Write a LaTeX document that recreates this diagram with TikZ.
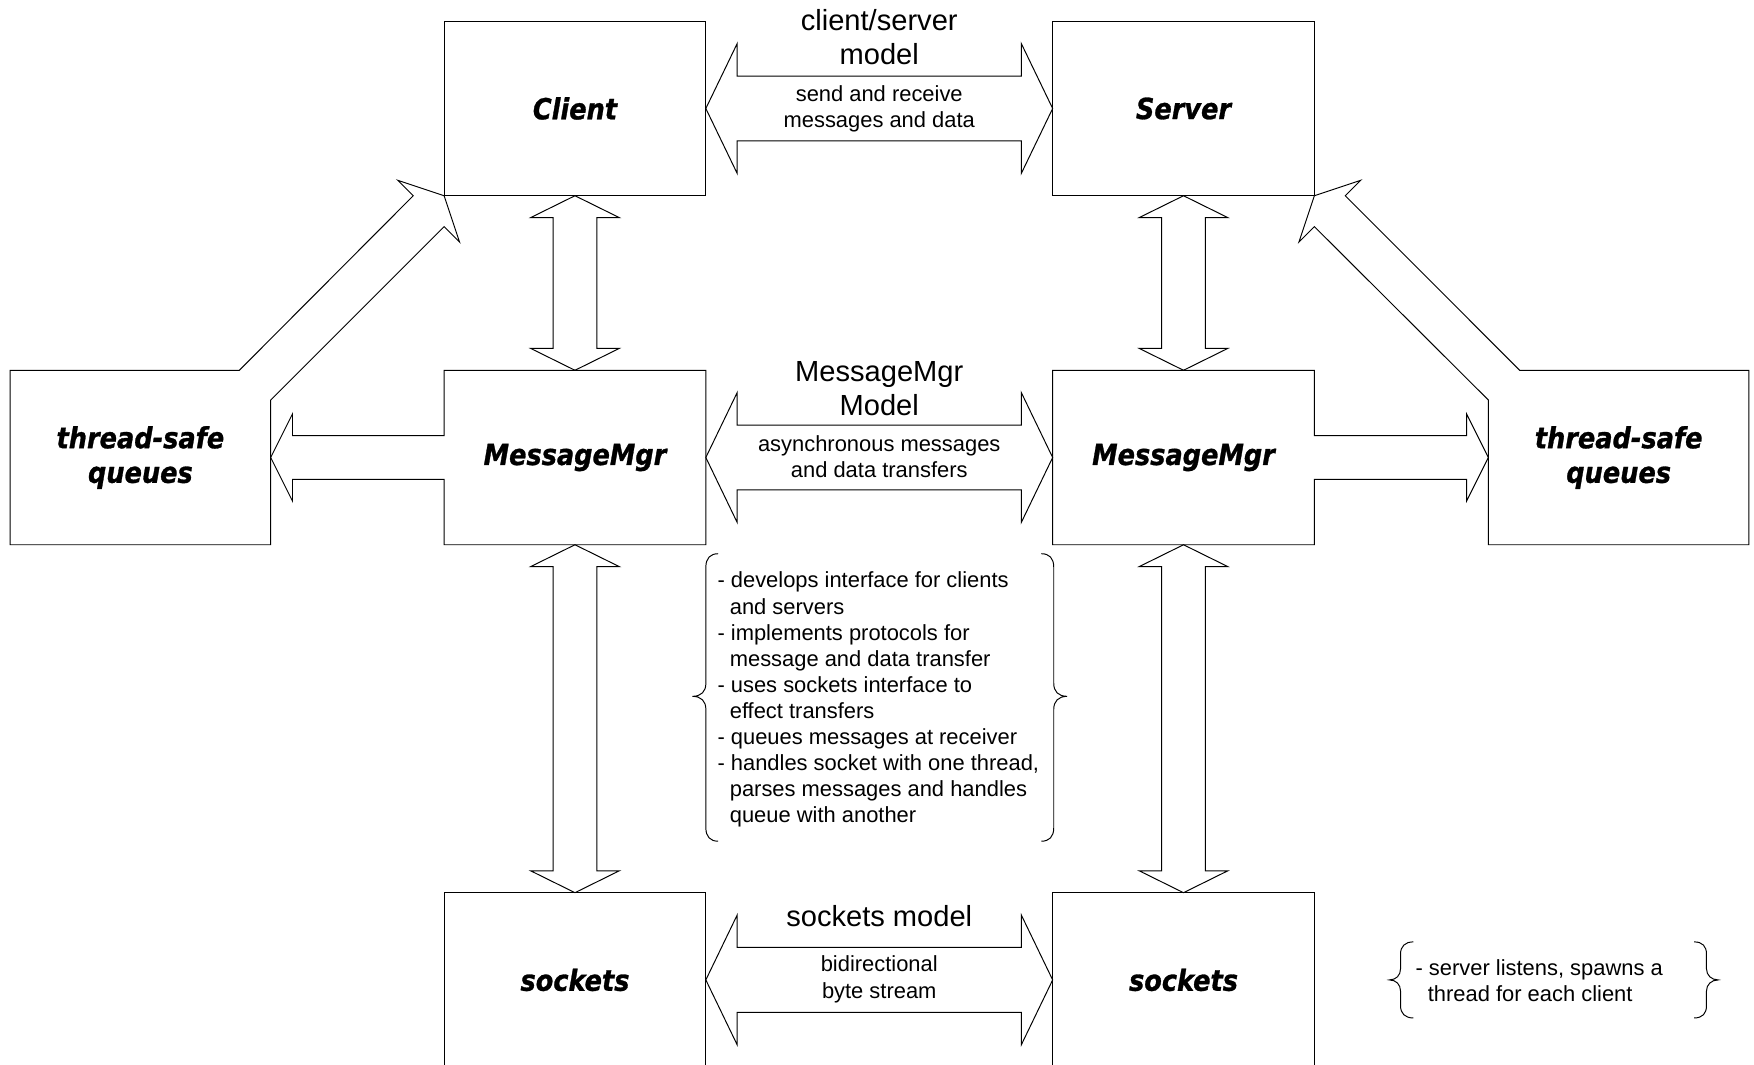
\documentclass[tikz,border=0pt]{standalone}
\usepackage{fontspec}
\setmainfont{Liberation Sans}
\newfontfamily\boxfont{DejaVu Sans}[FakeStretch=0.88, BoldItalicFeatures={FakeBold=1}]
\usetikzlibrary{calc}
\newcommand{\noteind}{\hspace*{0.22cm}}
\newcommand{\hbiarrow}[2]{%
  \draw[arr] (#1.east) -- ($(#1.east)+(28,-58)$) -- ($(#1.east)+(28,-29)$)
    -- ($(#2.west)+(-28,-29)$) -- ($(#2.west)+(-28,-58)$) -- (#2.west)
    -- ($(#2.west)+(-28,58)$) -- ($(#2.west)+(-28,29)$)
    -- ($(#1.east)+(28,29)$) -- ($(#1.east)+(28,58)$) -- cycle;}
\newcommand{\vbiarrow}[2]{%
  \draw[arr] (#1.south) -- ($(#1.south)+(39.5,19.5)$) -- ($(#1.south)+(19.5,19.5)$)
    -- ($(#2.north)+(19.5,-19.5)$) -- ($(#2.north)+(39.5,-19.5)$) -- (#2.north)
    -- ($(#2.north)+(-39.5,-19.5)$) -- ($(#2.north)+(-19.5,-19.5)$)
    -- ($(#1.south)+(-19.5,19.5)$) -- ($(#1.south)+(-39.5,19.5)$) -- cycle;}
\tikzset{
  box/.style={rectangle, minimum width=4.68cm, minimum height=3.12cm, inner sep=0pt, outer sep=0pt,
    font=\boxfont\bfseries\itshape\fontsize{14.8pt}{17.6pt}\selectfont, align=center},
  boxd/.style={box, draw},
  arr/.style={draw, line width=0.5pt, line join=miter},
  biglbl/.style={font=\fontsize{14.8pt}{17.07pt}\selectfont, align=center, inner sep=0pt},
  smalllbl/.style={font=\fontsize{11.15pt}{13.26pt}\selectfont, align=center, inner sep=0pt},
  notetext/.style={font=\fontsize{11.15pt}{13.26pt}\selectfont, align=left, inner sep=0pt, anchor=north west},
  bracepath/.style={draw, line width=0.5pt},
}
\begin{document}
\begin{tikzpicture}[x=0.02cm, y=-0.02cm, line width=0.5pt]
\useasboundingbox (0,0) rectangle (1568,952);
% boxes
\node[boxd] (client) at (514,97) {Client};
\node[boxd] (server) at (1058,97) {Server};
\node[box] (mmL) at (514,409) {MessageMgr};
\node[box] (mmR) at (1058,409) {MessageMgr};
\node[box, minimum width=4.66cm] (qL) at (125.5,409) {thread-safe\\queues};
\node[box, minimum width=4.66cm] (qR) at (1447,409) {thread-safe\\queues};
\node[boxd] (sockL) at (514,876) {sockets};
\node[boxd] (sockR) at (1058,876) {sockets};
% MessageMgr outlines with arrows into the queues
\draw[arr] ($(mmL.west)+(0,-19.5)$) -- ($(qL.east)+(19.5,-19.5)$) -- ($(qL.east)+(19.5,-39)$)
  -- (qL.east) -- ($(qL.east)+(19.5,39)$) -- ($(qL.east)+(19.5,19.5)$) -- ($(mmL.west)+(0,19.5)$)
  -- (mmL.south west) -- (mmL.south east) -- (mmL.north east) -- (mmL.north west) -- cycle;
\draw[arr] ($(mmR.east)+(0,-19.5)$) -- ($(qR.west)+(-19.5,-19.5)$) -- ($(qR.west)+(-19.5,-39)$)
  -- (qR.west) -- ($(qR.west)+(-19.5,39)$) -- ($(qR.west)+(-19.5,19.5)$) -- ($(mmR.east)+(0,19.5)$)
  -- (mmR.south east) -- (mmR.south west) -- (mmR.north west) -- (mmR.north east) -- cycle;
% queue outlines with diagonal arrows
\draw[arr] ($(qL.north east)+(-28,0)$) -- (qL.north west) -- (qL.south west) -- (qL.south east)
  -- ($(qL.north east)+(0,26.6)$) -- ($(client.south west)+(0,27.6)$) -- ($(client.south west)+(13.8,41.4)$)
  -- (client.south west) -- ($(client.south west)+(-41.4,-13.8)$) -- ($(client.south west)+(-27.6,0)$) -- cycle;
\draw[arr] ($(qR.north west)+(28,0)$) -- (qR.north east) -- (qR.south east) -- (qR.south west)
  -- ($(qR.north west)+(0,26.6)$) -- ($(server.south east)+(0,27.6)$) -- ($(server.south east)+(-13.8,41.4)$)
  -- (server.south east) -- ($(server.south east)+(41.4,-13.8)$) -- ($(server.south east)+(27.6,0)$) -- cycle;
% double arrows
\hbiarrow{client}{server}
\hbiarrow{mmL}{mmR}
\hbiarrow{sockL}{sockR}
\vbiarrow{client}{mmL}
\vbiarrow{server}{mmR}
\vbiarrow{mmL}{sockL}
\vbiarrow{mmR}{sockR}
% labels
\node[biglbl] (csm) at (786,33) {client/server\\model};
\node[smalllbl] (csd) at (786,97.5) {send and receive\\messages and data};
\node[biglbl] (mmm) at (786,347.5) {MessageMgr\\Model};
\node[smalllbl] (mmd) at (786,408.5) {asynchronous messages\\and data transfers};
\node[biglbl] (skm) at (786,819) {sockets model};
\node[smalllbl] (skd) at (786,875.5) {bidirectional\\byte stream};
% notes
\node[notetext] (note1) at (641,511) {- develops interface for clients\\\noteind and servers\\- implements protocols for\\\noteind message and data transfer\\- uses sockets interface to\\\noteind effect transfers\\- queues messages at receiver\\- handles socket with one thread,\\\noteind parses messages and handles\\\noteind queue with another};
\node[notetext] (note2) at (1265,857) {- server listens, spawns a\\\noteind thread for each client};
% braces
\draw[bracepath] (642,495) .. controls (635,495) and (631,499) .. (631,507) -- (631,611)
  .. controls (631,618) and (627,622.5) .. (619,622.5) .. controls (627,622.5) and (631,627) .. (631,634)
  -- (631,740) .. controls (631,748) and (635,752) .. (642,752);
\draw[bracepath] (931,495) .. controls (938,495) and (942,499) .. (942,507) -- (942,611)
  .. controls (942,618) and (946,622.5) .. (954,622.5) .. controls (946,622.5) and (942,627) .. (942,634)
  -- (942,740) .. controls (942,748) and (938,752) .. (931,752);
\draw[bracepath] (1263.5,842) .. controls (1256,842) and (1252,846) .. (1252,853) -- (1252,866)
  .. controls (1252,872) and (1248,876) .. (1242,876) .. controls (1248,876) and (1252,880) .. (1252,886)
  -- (1252,899) .. controls (1252,906) and (1256,910) .. (1263.5,910);
\draw[bracepath] (1514.5,842) .. controls (1522,842) and (1525.5,846) .. (1525.5,853) -- (1525.5,866)
  .. controls (1525.5,872) and (1530,876) .. (1536,876) .. controls (1530,876) and (1525.5,880) .. (1525.5,886)
  -- (1525.5,899) .. controls (1525.5,906) and (1522,910) .. (1514.5,910);
\end{tikzpicture}
\end{document}
